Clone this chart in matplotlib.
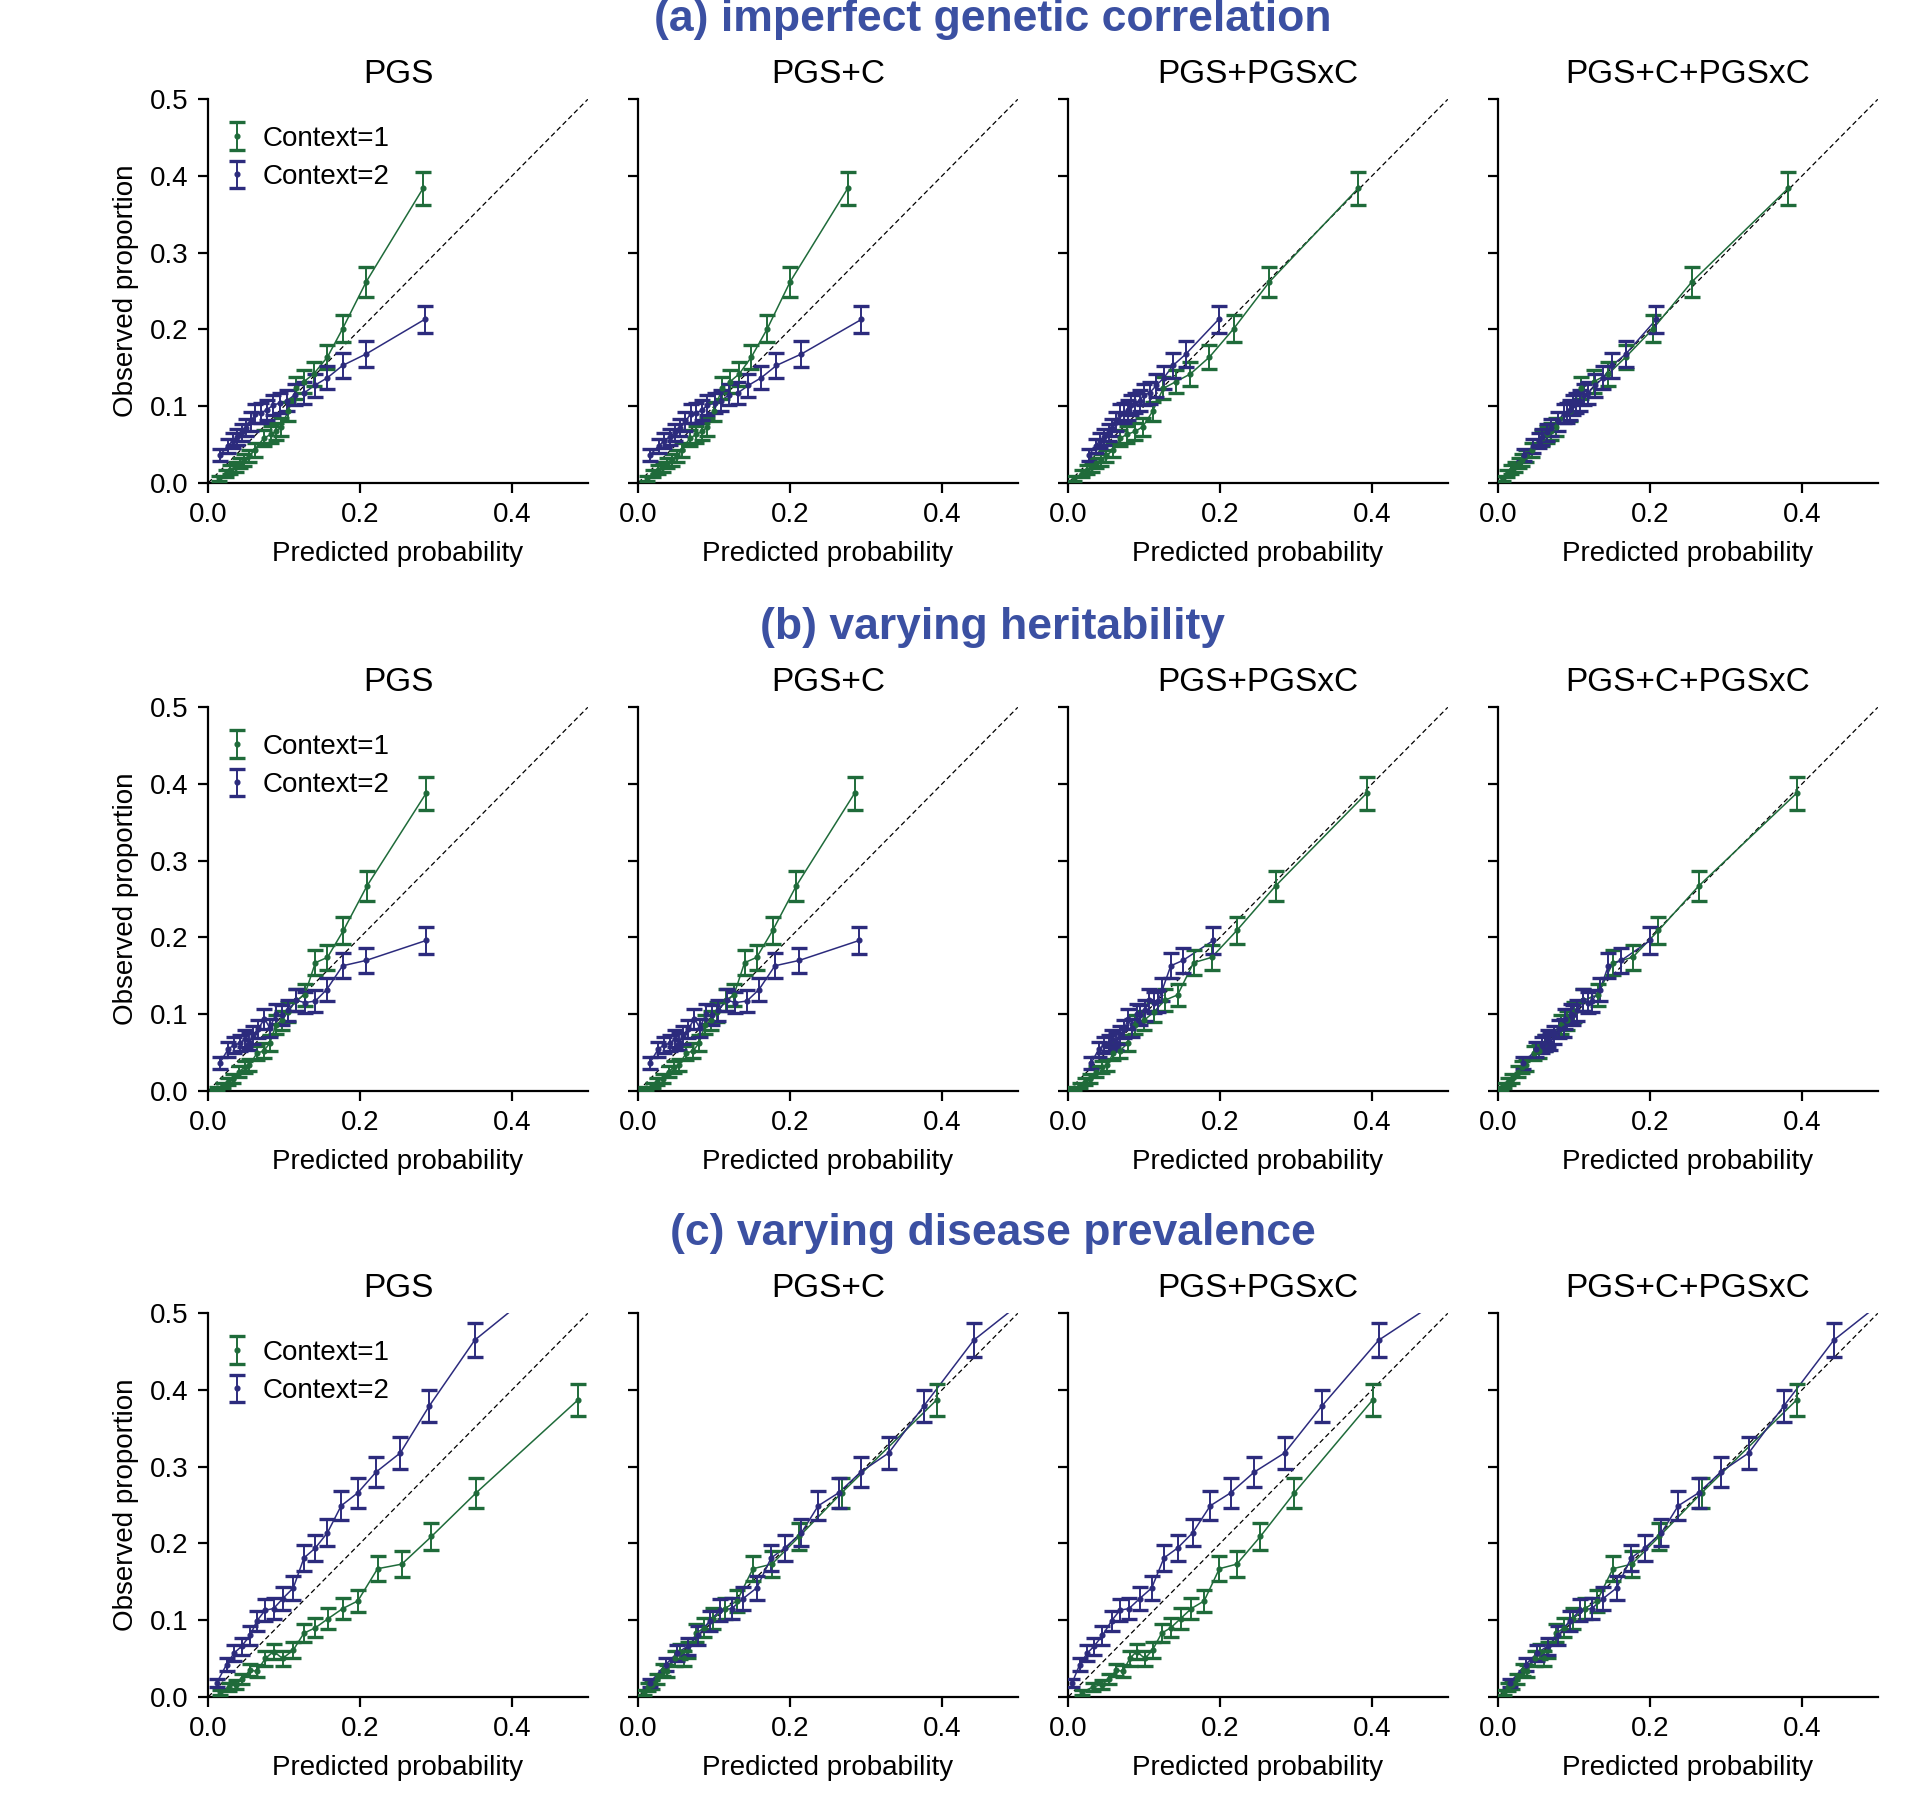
import numpy as np
import matplotlib
matplotlib.use("Agg")
import matplotlib.pyplot as plt

plt.rcParams['font.family'] = ['Liberation Sans', 'DejaVu Sans']

# ---------------- data ----------------
row_titles = ["(a) imperfect genetic correlation", "(b) varying heritability",
              "(c) varying disease prevalence"]
col_titles = ["PGS", "PGS+C", "PGS+PGSxC", "PGS+C+PGSxC"]
legend_labels = ["Context=1", "Context=2"]
x_ticks = [0.0, 0.2, 0.4]
y_ticks = [0.0, 0.1, 0.2, 0.3, 0.4, 0.5]
BIN_SIZE = 2000  # individuals per bin (for 95% binomial CI)

# Row (a): observed proportions per bin (shared across models)
a_obs_c1 = [0.006, 0.012, 0.017, 0.021, 0.026, 0.030, 0.035, 0.043, 0.058, 0.063,
            0.067, 0.073, 0.093, 0.123, 0.132, 0.142, 0.164, 0.201, 0.262, 0.384]
a_obs_c2 = [0.036, 0.048, 0.055, 0.060, 0.066, 0.072, 0.080, 0.090, 0.091, 0.095,
            0.101, 0.104, 0.107, 0.115, 0.117, 0.127, 0.137, 0.153, 0.168, 0.213]
a_pred_c1 = [
    [0.014, 0.023, 0.029, 0.036, 0.042, 0.047, 0.054, 0.061, 0.073, 0.082,
     0.089, 0.096, 0.105, 0.116, 0.126, 0.139, 0.157, 0.177, 0.208, 0.283],
    [0.011, 0.020, 0.026, 0.032, 0.038, 0.044, 0.051, 0.057, 0.068, 0.076,
     0.084, 0.091, 0.100, 0.110, 0.121, 0.133, 0.149, 0.170, 0.200, 0.276],
    [0.008, 0.018, 0.025, 0.031, 0.037, 0.043, 0.050, 0.059, 0.068, 0.077,
     0.088, 0.098, 0.111, 0.125, 0.142, 0.161, 0.186, 0.218, 0.265, 0.382],
    [0.006, 0.012, 0.017, 0.022, 0.027, 0.031, 0.036, 0.044, 0.058, 0.064,
     0.070, 0.076, 0.094, 0.109, 0.126, 0.145, 0.168, 0.204, 0.255, 0.382],
]
a_pred_c2 = [
    [0.015, 0.026, 0.032, 0.038, 0.044, 0.050, 0.056, 0.062, 0.069, 0.077,
     0.085, 0.094, 0.104, 0.114, 0.126, 0.140, 0.157, 0.177, 0.208, 0.285],
    [0.015, 0.027, 0.034, 0.042, 0.049, 0.055, 0.062, 0.069, 0.076, 0.084,
     0.091, 0.101, 0.109, 0.120, 0.131, 0.145, 0.162, 0.182, 0.215, 0.294],
    [0.027, 0.036, 0.042, 0.047, 0.053, 0.058, 0.063, 0.068, 0.073, 0.078,
     0.083, 0.088, 0.094, 0.100, 0.107, 0.116, 0.126, 0.138, 0.155, 0.198],
    [0.034, 0.046, 0.053, 0.058, 0.064, 0.070, 0.078, 0.086, 0.090, 0.095,
     0.099, 0.103, 0.108, 0.113, 0.118, 0.128, 0.138, 0.150, 0.168, 0.208],
]

# Row (b)
b_obs_c1 = [0.003, 0.007, 0.012, 0.016, 0.025, 0.031, 0.033, 0.049, 0.052, 0.062,
            0.086, 0.092, 0.103, 0.118, 0.125, 0.167, 0.174, 0.209, 0.267, 0.388]
b_obs_c2 = [0.036, 0.054, 0.060, 0.062, 0.068, 0.064, 0.073, 0.081, 0.094, 0.082,
            0.100, 0.099, 0.105, 0.118, 0.115, 0.117, 0.132, 0.163, 0.170, 0.196]
b_pred_c1 = [
    [0.011, 0.020, 0.026, 0.033, 0.041, 0.048, 0.054, 0.064, 0.073, 0.081,
     0.089, 0.097, 0.105, 0.116, 0.127, 0.141, 0.157, 0.178, 0.209, 0.287],
    [0.010, 0.019, 0.025, 0.032, 0.040, 0.047, 0.053, 0.063, 0.072, 0.080,
     0.088, 0.096, 0.104, 0.115, 0.126, 0.140, 0.156, 0.177, 0.208, 0.285],
    [0.007, 0.015, 0.022, 0.029, 0.036, 0.044, 0.051, 0.059, 0.068, 0.078,
     0.088, 0.100, 0.113, 0.127, 0.144, 0.165, 0.189, 0.222, 0.273, 0.393],
    [0.004, 0.008, 0.013, 0.018, 0.026, 0.031, 0.036, 0.047, 0.053, 0.062,
     0.082, 0.090, 0.100, 0.112, 0.131, 0.151, 0.177, 0.211, 0.264, 0.393],
]
b_pred_c2 = [
    [0.015, 0.026, 0.034, 0.042, 0.048, 0.054, 0.059, 0.066, 0.074, 0.081,
     0.089, 0.097, 0.105, 0.116, 0.127, 0.141, 0.156, 0.177, 0.208, 0.287],
    [0.015, 0.026, 0.034, 0.042, 0.048, 0.054, 0.059, 0.066, 0.074, 0.081,
     0.089, 0.097, 0.105, 0.117, 0.128, 0.143, 0.159, 0.180, 0.212, 0.291],
    [0.030, 0.040, 0.047, 0.053, 0.058, 0.063, 0.068, 0.074, 0.079, 0.084,
     0.090, 0.095, 0.101, 0.106, 0.113, 0.118, 0.124, 0.135, 0.151, 0.191],
    [0.033, 0.050, 0.057, 0.061, 0.066, 0.068, 0.074, 0.080, 0.088, 0.086,
     0.096, 0.099, 0.104, 0.112, 0.118, 0.123, 0.134, 0.145, 0.162, 0.200],
]

# Row (c)
c_obs_c1 = [0.006, 0.013, 0.016, 0.023, 0.035, 0.033, 0.050, 0.059, 0.050, 0.061,
            0.083, 0.090, 0.102, 0.115, 0.125, 0.167, 0.173, 0.209, 0.266, 0.387]
c_obs_c2 = [0.018, 0.042, 0.057, 0.066, 0.080, 0.099, 0.113, 0.115, 0.128, 0.142,
            0.181, 0.194, 0.214, 0.249, 0.266, 0.293, 0.318, 0.379, 0.465, 0.570]
c_pred_c1 = [
    [0.015, 0.027, 0.036, 0.045, 0.055, 0.064, 0.075, 0.086, 0.098, 0.112,
     0.126, 0.141, 0.158, 0.177, 0.197, 0.223, 0.255, 0.294, 0.353, 0.487],
    [0.007, 0.013, 0.018, 0.025, 0.032, 0.038, 0.048, 0.055, 0.060, 0.066,
     0.076, 0.087, 0.099, 0.114, 0.130, 0.151, 0.176, 0.212, 0.268, 0.393],
    [0.018, 0.033, 0.044, 0.054, 0.063, 0.072, 0.081, 0.090, 0.101, 0.111,
     0.123, 0.135, 0.148, 0.162, 0.179, 0.199, 0.222, 0.253, 0.298, 0.401],
    [0.007, 0.013, 0.018, 0.025, 0.032, 0.038, 0.048, 0.055, 0.060, 0.066,
     0.076, 0.087, 0.099, 0.114, 0.130, 0.151, 0.176, 0.212, 0.268, 0.393],
]
c_pred_c2 = [
    [0.011, 0.024, 0.034, 0.044, 0.055, 0.064, 0.075, 0.086, 0.098, 0.112,
     0.126, 0.141, 0.157, 0.175, 0.197, 0.221, 0.253, 0.291, 0.351, 0.482],
    [0.015, 0.036, 0.051, 0.065, 0.079, 0.094, 0.108, 0.123, 0.138, 0.156,
     0.175, 0.193, 0.215, 0.237, 0.264, 0.293, 0.330, 0.376, 0.442, 0.576],
    [0.005, 0.015, 0.025, 0.034, 0.045, 0.057, 0.068, 0.080, 0.094, 0.110,
     0.126, 0.144, 0.164, 0.187, 0.214, 0.245, 0.285, 0.334, 0.409, 0.570],
    [0.015, 0.036, 0.051, 0.065, 0.079, 0.094, 0.108, 0.123, 0.138, 0.156,
     0.175, 0.193, 0.215, 0.237, 0.264, 0.293, 0.330, 0.376, 0.442, 0.576],
]

rows = [
    (a_obs_c1, a_obs_c2, a_pred_c1, a_pred_c2),
    (b_obs_c1, b_obs_c2, b_pred_c1, b_pred_c2),
    (c_obs_c1, c_obs_c2, c_pred_c1, c_pred_c2),
]

# ---------------- styling / layout ----------------
GREEN = "#1f6b3a"
BLUE = "#2c2b7d"
TITLE_BLUE = "#3b50a2"
W, H = 1933, 1813
lefts = [208.3, 638.3, 1068.3, 1498.3]
tops = [99.3, 707.3, 1313.3]
ax_w, ax_h = 379.5, 383.5
row_title_y = [19, 627, 1234]
FS = 20

fig = plt.figure(figsize=(W / 100, H / 100), dpi=100)

def ci(p):
    p = np.asarray(p)
    return 1.96 * np.sqrt(p * (1 - p) / BIN_SIZE)

for r, (obs1, obs2, pred1, pred2) in enumerate(rows):
    fig.text(993 / W, 1 - row_title_y[r] / H, row_titles[r], ha='center', va='center',
             fontsize=32, fontweight='bold', color=TITLE_BLUE)
    for c in range(4):
        ax = fig.add_axes([lefts[c] / W, 1 - (tops[r] + ax_h) / H, ax_w / W, ax_h / H])
        ax.plot([0, 0.5], [0, 0.5], color='black', lw=0.9, ls=(0, (4, 2.5)), zorder=1)
        handles = []
        for obs, pred, col in ((obs1, pred1[c], GREEN), (obs2, pred2[c], BLUE)):
            ax.plot(pred, obs, color=col, lw=1.1, zorder=2)
            eb = ax.errorbar(pred, obs, yerr=ci(obs), fmt='o', ms=3.4, color=col,
                             ecolor=col, elinewidth=1.4, capsize=5.5, capthick=2.4, zorder=3)
            handles.append(eb)
        ax.set_xlim(0, 0.5)
        ax.set_ylim(0, 0.5)
        ax.set_xticks(x_ticks)
        ax.set_yticks(y_ticks)
        ax.set_xticklabels([f"{t:.1f}" for t in x_ticks])
        if c == 0:
            ax.set_yticklabels([f"{t:.1f}" for t in y_ticks])
            ax.set_ylabel("Observed proportion", fontsize=FS, labelpad=8)
            ax.legend(handles, legend_labels, loc='upper left', frameon=False,
                      fontsize=FS, handlelength=0.8, handletextpad=0.55,
                      bbox_to_anchor=(-0.006, 0.982), borderaxespad=0.3, labelspacing=0.45)
        else:
            ax.set_yticklabels([])
        ax.set_xlabel("Predicted probability", fontsize=FS, labelpad=9)
        ax.set_title(col_titles[c], fontsize=24, pad=12)
        for s in ('top', 'right'):
            ax.spines[s].set_visible(False)
        for s in ('left', 'bottom'):
            ax.spines[s].set_linewidth(1.6)
        ax.tick_params(direction='out', length=7, width=1.6, labelsize=FS, pad=7)

fig.savefig("out.png", dpi=100, facecolor='white')
